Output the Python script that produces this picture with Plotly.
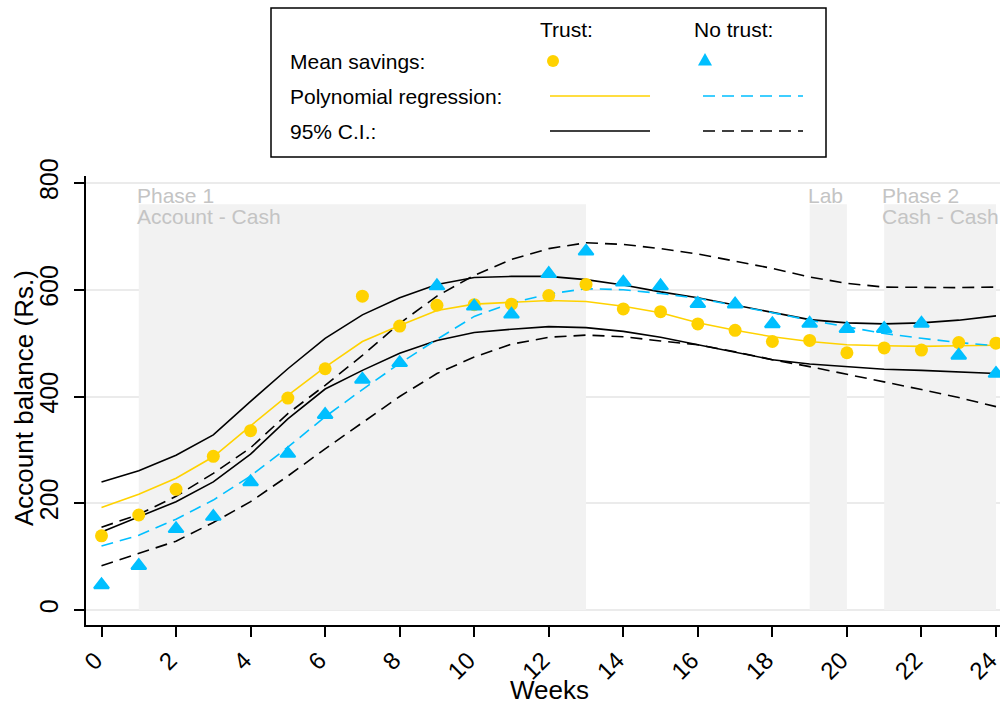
import plotly.graph_objects as go

# ---------------- data ----------------
weeks = list(range(25))

trust_mean = [139, 178, 226, 288, 336, 397, 452, 588, 532, 571, 572, 573, 589, 610,
              564, 559, 536, 524, 503, 505, 482, 491, 487, 501, 500]
notrust_mean = [47, 83, 152, 175, 240, 293, 366, 432, 463, 607, 569, 554, 630, 672,
                614, 607, 574, 573, 536, 537, 527, 527, 537, 477, 443]

trust_fit = [192, 217, 247, 287, 345, 402, 455, 503, 533, 561, 573, 577, 580, 578,
             569, 557, 538, 524, 512, 503, 497, 495, 494, 495, 496]
trust_ci_hi = [240, 261, 290, 328, 391, 452, 509, 553, 585, 610, 623, 625, 625, 619,
               609, 596, 585, 571, 557, 544, 538, 536, 538, 543, 551]
trust_ci_lo = [146, 174, 203, 240, 292, 358, 414, 449, 481, 505, 520, 526, 531, 529,
               522, 511, 497, 482, 469, 461, 456, 451, 449, 446, 443]

notrust_fit = [120, 140, 170, 206, 251, 305, 362, 413, 462, 507, 550, 575, 592, 602,
               600, 593, 584, 571, 557, 543, 531, 518, 509, 501, 495]
notrust_ci_hi = [155, 179, 213, 256, 304, 368, 421, 477, 537, 588, 627, 657, 677, 688,
                 685, 677, 667, 654, 640, 624, 612, 605, 604, 604, 605]
notrust_ci_lo = [83, 106, 129, 164, 203, 251, 302, 351, 400, 443, 474, 498, 511, 515,
                 512, 504, 497, 484, 469, 456, 442, 428, 413, 398, 381]

phase_start = [1, 19, 21]
phase_end = [13, 20, 24]
phase_line1 = ["Phase 1", "Lab", "Phase 2"]
phase_line2 = ["Account - Cash", "", "Cash - Cash"]
phase_top = 760

x_ticks = list(range(0, 25, 2))
y_ticks = [0, 200, 400, 600, 800]

# ---------------- styling ----------------
YELLOW = "#FFD200"
BLUE = "#00BFFF"
BLACK = "#000000"
SHADE = "#F2F2F2"
PHASE_TXT = "#C4C4C4"
FONT = "Liberation Sans, Arial, sans-serif"
DASH = "12px,7px"

W, H = 1005, 708
ML, MR, MT, MB = 86, 5, 176, 83
PW, PH = W - ML - MR, H - MT - MB


def fx(px):
    return (px - ML) / PW


def fy(py):
    return (H - MB - py) / PH


fig = go.Figure()

# CI lines
fig.add_trace(go.Scatter(x=weeks, y=trust_ci_hi, mode="lines",
                         line=dict(color=BLACK, width=1.6), hoverinfo="skip"))
fig.add_trace(go.Scatter(x=weeks, y=trust_ci_lo, mode="lines",
                         line=dict(color=BLACK, width=1.6), hoverinfo="skip"))
fig.add_trace(go.Scatter(x=weeks, y=notrust_ci_hi, mode="lines",
                         line=dict(color=BLACK, width=1.6, dash=DASH), hoverinfo="skip"))
fig.add_trace(go.Scatter(x=weeks, y=notrust_ci_lo, mode="lines",
                         line=dict(color=BLACK, width=1.6, dash=DASH), hoverinfo="skip"))
# fits
fig.add_trace(go.Scatter(x=weeks, y=trust_fit, mode="lines",
                         line=dict(color=YELLOW, width=1.6)))
fig.add_trace(go.Scatter(x=weeks, y=notrust_fit, mode="lines",
                         line=dict(color=BLUE, width=1.6, dash=DASH)))
# means
fig.add_trace(go.Scatter(x=weeks, y=trust_mean, mode="markers",
                         marker=dict(symbol="circle", size=13, color=YELLOW,
                                     line=dict(width=0))))
fig.add_trace(go.Scatter(x=weeks, y=notrust_mean, mode="markers",
                         marker=dict(symbol="triangle-up", size=13, color=BLUE,
                                     line=dict(width=2, color=BLUE))))

shapes = []
annotations = []

# phase shading + labels
for s, e, l1, l2 in zip(phase_start, phase_end, phase_line1, phase_line2):
    shapes.append(dict(type="rect", xref="x", yref="y", x0=s, x1=e, y0=0, y1=phase_top,
                       fillcolor=SHADE, line=dict(width=0), layer="between"))
    annotations.append(dict(x=s, xref="x", xanchor="left", xshift=-4,
                            y=fy(195.5), yref="paper", yanchor="middle",
                            text=l1, showarrow=False,
                            font=dict(family=FONT, size=21, color=PHASE_TXT)))
    if l2:
        annotations.append(dict(x=s, xref="x", xanchor="left", xshift=-4,
                                y=fy(216.5), yref="paper", yanchor="middle",
                                text=l2, showarrow=False,
                                font=dict(family=FONT, size=21, color=PHASE_TXT)))

# legend box
shapes.append(dict(type="rect", xref="paper", yref="paper",
                   x0=fx(271), x1=fx(826), y0=fy(157), y1=fy(8),
                   line=dict(color=BLACK, width=1.5), fillcolor="white", layer="above"))
# legend samples
shapes.append(dict(type="circle", xref="paper", yref="paper",
                   x0=fx(547), x1=fx(559), y0=fy(67), y1=fy(55),
                   fillcolor=YELLOW, line=dict(width=0), layer="above"))
tri = "M {},{} L {},{} L {},{} Z".format(fx(698), fy(65.5), fx(712), fy(65.5), fx(705), fy(53))
shapes.append(dict(type="path", xref="paper", yref="paper", path=tri,
                   fillcolor=BLUE, line=dict(width=0), layer="above"))
shapes.append(dict(type="line", xref="paper", yref="paper",
                   x0=fx(550), x1=fx(650), y0=fy(96), y1=fy(96),
                   line=dict(color=YELLOW, width=1.6), layer="above"))
shapes.append(dict(type="line", xref="paper", yref="paper",
                   x0=fx(703), x1=fx(803), y0=fy(96), y1=fy(96),
                   line=dict(color=BLUE, width=1.6, dash=DASH), layer="above"))
shapes.append(dict(type="line", xref="paper", yref="paper",
                   x0=fx(550), x1=fx(650), y0=fy(131), y1=fy(131),
                   line=dict(color=BLACK, width=1.6), layer="above"))
shapes.append(dict(type="line", xref="paper", yref="paper",
                   x0=fx(703), x1=fx(803), y0=fy(131), y1=fy(131),
                   line=dict(color=BLACK, width=1.6, dash=DASH), layer="above"))

legend_font = dict(family=FONT, size=21, color=BLACK)
for txt, py in [("Mean savings:", 61), ("Polynomial regression:", 96), ("95% C.I.:", 131)]:
    annotations.append(dict(x=fx(288), xref="paper", xanchor="left",
                            y=fy(py), yref="paper", yanchor="middle",
                            text=txt, showarrow=False, font=legend_font))
annotations.append(dict(x=fx(566), xref="paper", xanchor="center", y=fy(29), yref="paper",
                        yanchor="middle", text="Trust:", showarrow=False, font=legend_font))
annotations.append(dict(x=fx(733), xref="paper", xanchor="center", y=fy(29), yref="paper",
                        yanchor="middle", text="No trust:", showarrow=False, font=legend_font))

# axis titles
annotations.append(dict(x=fx(24), xref="paper", xanchor="center", y=fy(398), yref="paper",
                        yanchor="middle", text="Account balance (Rs.)", textangle=-90,
                        showarrow=False, font=dict(family=FONT, size=26, color=BLACK)))
annotations.append(dict(x=fx(549), xref="paper", xanchor="center", y=fy(690), yref="paper",
                        yanchor="middle", text="Weeks",
                        showarrow=False, font=dict(family=FONT, size=26, color=BLACK)))

x0_px, x24_px = 101.5, 996.0
ppw = (x24_px - x0_px) / 24
xr = [(ML - x0_px) / ppw, (W - MR - x0_px) / ppw]
y0_px, y800_px = 610.0, 183.0
ppu = (y0_px - y800_px) / 800
yr = [(y0_px - (H - MB)) / ppu, (y0_px - MT) / ppu]

fig.update_layout(
    width=W, height=H,
    margin=dict(l=ML, r=MR, t=MT, b=MB, pad=0, autoexpand=False),
    paper_bgcolor="white", plot_bgcolor="white",
    showlegend=False,
    font=dict(family=FONT, color=BLACK),
    shapes=shapes, annotations=annotations,
    xaxis=dict(range=xr, tickvals=x_ticks, ticktext=[str(v) for v in x_ticks],
               tickangle=-45, ticks="outside", ticklen=10, tickwidth=1.5, tickcolor=BLACK,
               ticklabeloverflow="allow", automargin=False, ticklabelshift=-6,
               showline=True, linecolor=BLACK, linewidth=1.5, showgrid=False,
               zeroline=False, tickfont=dict(family=FONT, size=24, color=BLACK)),
    yaxis=dict(range=yr, tickvals=y_ticks, ticktext=[str(v) for v in y_ticks],
               tickangle=-90, ticks="outside", ticklen=10, tickwidth=1.5, tickcolor=BLACK,
               ticklabelstandoff=6, ticklabeloverflow="allow", automargin=False,
               showline=True, linecolor=BLACK, linewidth=1.5, showgrid=True,
               gridcolor="#EBEBEB", gridwidth=1.5,
               zeroline=False, tickfont=dict(family=FONT, size=25, color=BLACK)),
)

post = (
    "document.documentElement.style.margin='0';"
    "document.body.style.margin='0';"
    "document.body.style.overflow='hidden';"
    "document.documentElement.style.overflow='hidden';"
)

fig.write_html("out.html", config={"displayModeBar": False}, post_script=post)
